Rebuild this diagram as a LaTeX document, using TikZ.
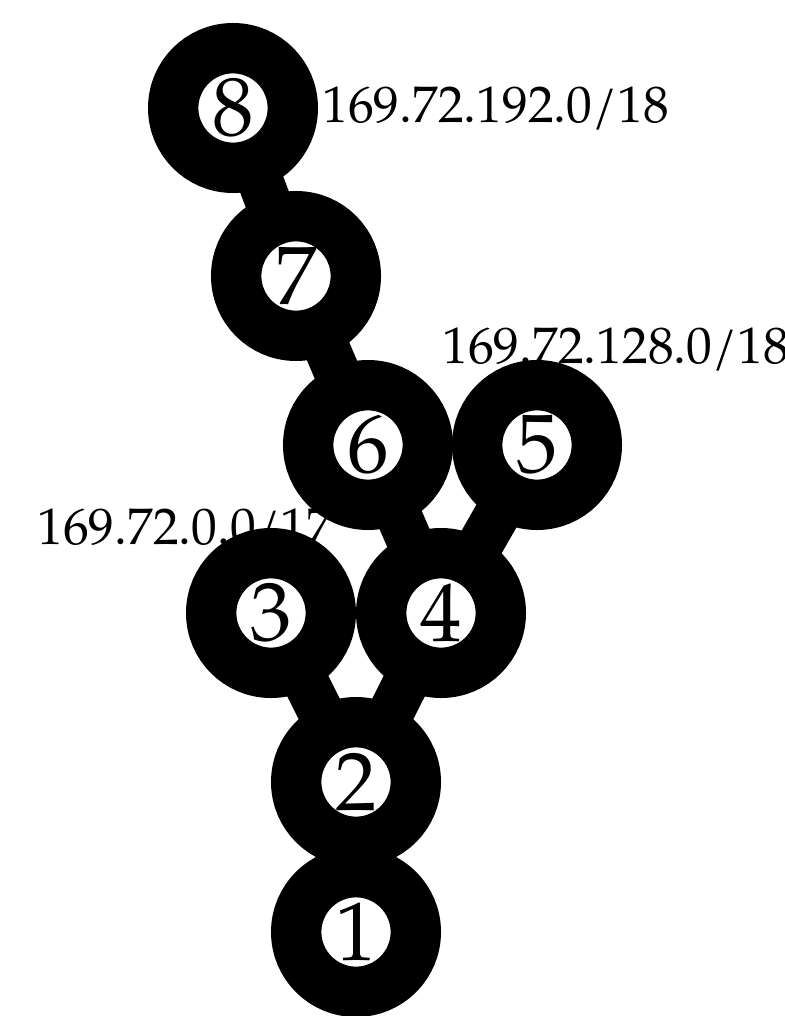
\documentclass[tikz,border=0pt]{standalone}
\usepackage{fontspec}
\setmainfont{TeX Gyre Pagella}
\usetikzlibrary{positioning,backgrounds}
\tikzset{
  router/.style={circle, draw=black, fill=white, line width=12.6mm, minimum size=29.9mm, inner sep=0pt, font=\fontsize{59}{59}\selectfont},
  link/.style={line width=11.5mm, black},
  netlabel/.style={anchor=base west, inner sep=0pt, font=\fontsize{36.6}{36.6}\selectfont}
}

\begin{document}
\begin{tikzpicture}[x=0.25mm, y=-0.25mm]
  \useasboundingbox (0,0) rectangle (784,1016);
  \node[router] (n8) at (233,108) {8};
  \node[router] (n7) at (296,276) {7};
  \node[router] (n6) at (368,445) {6};
  \node[router] (n5) at (537,445) {5};
  \node[router] (n3) at (271,613) {3};
  \node[router] (n4) at (441,613) {4};
  \node[router] (n2) at (356,782) {2};
  \node[router] (n1) at (356,932) {1};
  \begin{scope}[on background layer]
    \draw[link] (n8.center)--(n7.center); \draw[link] (n7.center)--(n6.center);
    \draw[link] (n6.center)--(n4.center); \draw[link] (n5.center)--(n4.center);
    \draw[link] (n3.center)--(n2.center); \draw[link] (n4.center)--(n2.center);
    \draw[link] (n2.center)--(n1.center);
    \node[netlabel] (l8) at (322,123) {169.72.192.0/18};
    \node[netlabel] (l5) at (442,363) {169.72.128.0/18};
    \node[netlabel] (l3) at (37,544) {169.72.0.0/17};
  \end{scope}
\end{tikzpicture}
\end{document}
